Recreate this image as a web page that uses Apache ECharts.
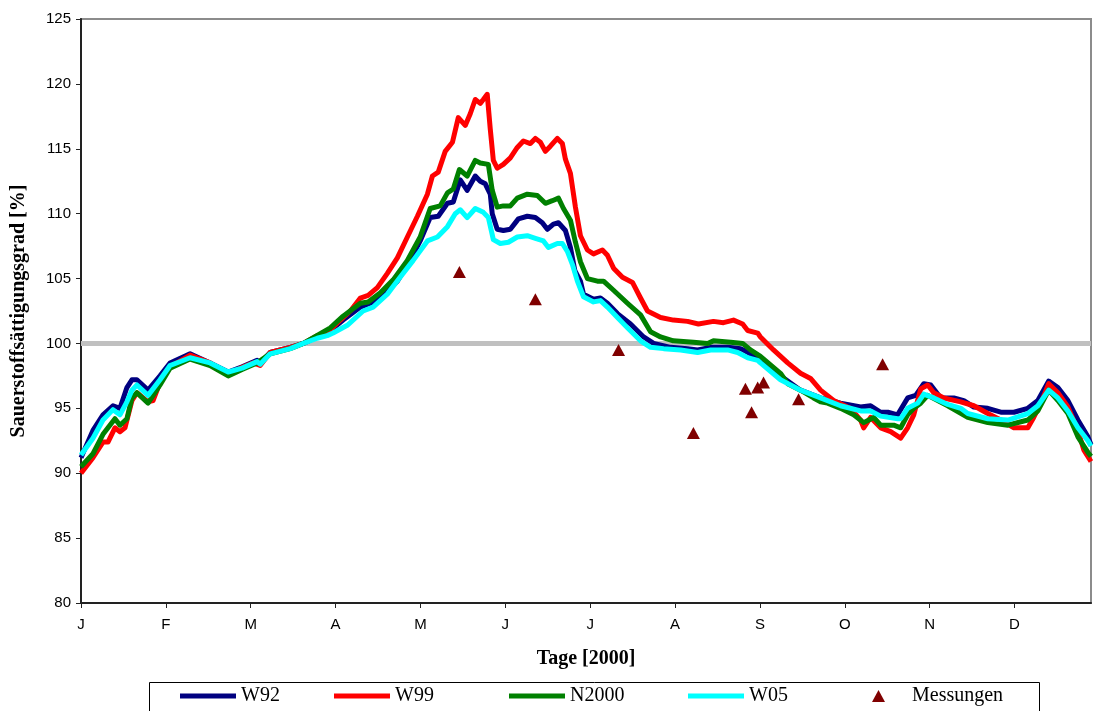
<!DOCTYPE html>
<html><head><meta charset="utf-8">
<script src="https://cdn.jsdelivr.net/npm/echarts@6/dist/echarts.min.js"></script>
<style>html,body{margin:0;padding:0;background:#fff}#c{width:1094px;height:711px}</style>
</head><body><div id="c"></div>
<script>
const monthLabels = ['J','F','M','A','M','J','J','A','S','O','N','D'];
const yTicks = [80,85,90,95,100,105,110,115,120,125];
const seriesNames = ['W92','W99','N2000','W05','Messungen'];
const refLevel = 100;

const w92 = [[0,91.2],[4.3,93.3],[7.9,94.5],[11.5,95.2],[14,95.0],[16.5,96.6],[18.3,97.2],[20.1,97.2],[24.1,96.4],[28.4,97.5],[32,98.5],[39.2,99.2],[46.4,98.5],[52.9,97.8],[57.9,98.2],[63.3,98.7],[64.4,98.5],[68,99.3],[75.2,99.7],[79.9,100.0],[84.9,100.5],[89.6,101.0],[94.2,101.8],[100.4,102.8],[104,103.1],[107.6,103.5],[113.7,104.8],[118.3,106.4],[121.9,107.9],[125.5,109.7],[128.4,109.8],[131.7,110.8],[133.8,110.9],[136.3,112.6],[138.8,111.8],[141.7,112.9],[143.5,112.5],[145.3,112.3],[147.1,111.5],[147.8,110.0],[149.6,108.8],[151.8,108.7],[154.3,108.8],[157.2,109.6],[160.4,109.8],[163.3,109.7],[165.8,109.3],[167.6,108.8],[169.8,109.2],[171.6,109.3],[174.1,108.7],[175.9,107.4],[177.5,105.6],[179.5,104.8],[180.6,103.8],[184.2,103.4],[186.7,103.5],[189.2,103.1],[192.8,102.3],[197.5,101.5],[202.2,100.5],[205.8,100.0],[211.9,99.7],[218,99.6],[221.6,99.5],[226.3,99.7],[232.4,99.7],[237.1,99.6],[240.6,99.2],[244.2,98.8],[251.4,97.5],[258.6,96.4],[265.8,95.8],[273,95.4],[280.2,95.1],[283.8,95.2],[287.4,94.7],[290,94.7],[293.5,94.5],[297.1,95.8],[300,96.0],[302.9,96.9],[305.4,96.8],[309,95.8],[313.7,95.8],[317.3,95.6],[320.9,95.1],[325.9,95.0],[330.6,94.7],[335.3,94.7],[340.3,95.0],[343.9,95.6],[347.8,97.1],[351.1,96.6],[354.7,95.6],[358.3,94.1],[361.9,92.8],[363,92.2]];

const w99 = [[0,90.0],[4.3,91.2],[7.9,92.4],[9.7,92.4],[12.2,93.5],[14,93.2],[15.8,93.5],[18.3,95.6],[20.1,96.2],[24.1,95.5],[25.9,95.6],[28.4,97.0],[32,98.2],[39.2,99.1],[46.4,98.5],[52.9,97.6],[57.2,98.1],[61.9,98.5],[64.4,98.3],[68,99.3],[75.2,99.7],[79.9,100.0],[84.9,100.6],[88.5,100.8],[93.2,101.8],[96.8,102.5],[100.4,103.5],[103.2,103.7],[106.5,104.3],[110.1,105.4],[113.7,106.6],[117.3,108.2],[120.9,109.8],[124.5,111.5],[126.3,112.9],[128.4,113.2],[130.9,114.8],[133.5,115.5],[135.6,117.4],[138.1,116.8],[139.9,117.7],[141.7,118.8],[143.5,118.5],[144.6,118.8],[146,119.2],[147.1,116.5],[148.2,114.1],[149.6,113.5],[151.8,113.8],[154.3,114.3],[156.8,115.1],[159,115.6],[161.5,115.4],[163.3,115.8],[165.1,115.5],[166.9,114.8],[168.7,115.2],[171.2,115.8],[173,115.4],[174.1,114.2],[175.9,113.1],[177.7,110.5],[179.5,108.3],[182,107.2],[184.2,106.9],[187.4,107.2],[189.2,106.8],[191.4,105.8],[194.6,105.1],[198.2,104.7],[201.1,103.5],[203.6,102.5],[208.3,102.0],[212.9,101.8],[218,101.7],[221.9,101.5],[227.3,101.7],[230.9,101.6],[234.5,101.8],[237.8,101.5],[239.6,101.0],[243.2,100.8],[244.2,100.5],[248.9,99.5],[254,98.5],[258.6,97.7],[262.2,97.3],[265.8,96.4],[270.5,95.6],[275.5,95.1],[276.6,95.0],[280.2,94.1],[281.3,93.5],[283.8,94.3],[287.4,93.5],[291,93.2],[294.6,92.7],[297.1,93.5],[299.3,94.5],[301.8,96.5],[304.3,96.8],[306.5,96.2],[310.1,95.8],[316.2,95.5],[320.9,95.2],[325.9,94.6],[330.6,94.1],[335.3,93.5],[340.3,93.5],[342.4,94.3],[345,95.4],[347.8,96.9],[351.1,96.2],[354.7,95.1],[358.3,93.3],[360.4,91.8],[363,90.9]];

const n2000 = [[0,90.5],[4.3,91.5],[7.9,93.0],[12.2,94.2],[14,93.7],[16.5,94.2],[18.3,95.8],[20.1,96.2],[24.1,95.4],[28.4,96.8],[32,98.1],[39.2,98.8],[46.4,98.3],[52.9,97.5],[57.9,98.0],[63.3,98.5],[68,99.2],[75.2,99.6],[79.9,100.0],[89.6,101.2],[94.2,102.1],[100.4,103.1],[103.2,103.2],[107.6,103.9],[112.2,104.9],[117.3,106.4],[121.9,108.2],[125.5,110.4],[129.1,110.6],[131.7,111.6],[133.8,111.9],[136,113.4],[138.8,112.9],[141.7,114.1],[143.5,113.9],[146.4,113.8],[147.8,111.8],[149.6,110.5],[151.8,110.6],[154.3,110.6],[156.8,111.2],[160.4,111.5],[164,111.4],[166.9,110.8],[169.4,111.0],[171.6,111.2],[173.4,110.4],[175.9,109.5],[177.7,107.8],[179.5,106.3],[182,105.0],[185.6,104.8],[187.8,104.8],[191.4,104.1],[196.4,103.1],[201.1,102.2],[204.7,100.9],[208.3,100.5],[212.9,100.2],[220.1,100.1],[225.2,100.0],[227.3,100.2],[233.5,100.1],[237.8,100.0],[240.6,99.5],[244.2,99.0],[251.4,97.7],[254,96.9],[258.6,96.4],[263.3,95.8],[265.8,95.5],[268.3,95.4],[273,95.0],[277.7,94.5],[281.3,93.9],[284.9,94.3],[287.4,93.7],[292.1,93.7],[294.6,93.5],[297.1,94.5],[299.3,95.0],[301.8,95.4],[304.3,96.0],[307.9,95.6],[311.5,95.2],[318.7,94.3],[325.9,93.9],[333.1,93.7],[340.3,94.1],[343.9,94.8],[347.8,96.4],[351.1,95.6],[354.7,94.6],[358.3,92.8],[361.9,91.6],[363,91.3]];

const w05 = [[0,91.4],[4.3,92.7],[7.9,94.1],[11.5,94.9],[14,94.5],[16.5,95.5],[18.3,96.4],[20.1,96.8],[24.1,96.0],[28.4,97.2],[32,98.3],[39.2,98.9],[46.4,98.5],[52.9,97.8],[57.9,98.1],[63.3,98.6],[64.4,98.4],[68,99.2],[75.2,99.6],[79.9,100.0],[84.9,100.4],[88.5,100.6],[90.6,100.8],[95.7,101.4],[101.4,102.5],[105,102.8],[110.1,103.8],[114.7,105.1],[119.4,106.4],[124.5,107.9],[128.1,108.2],[131.7,109.0],[134.5,110.0],[136.3,110.3],[138.8,109.7],[141.7,110.4],[144.6,110.1],[146.4,109.7],[148.2,108.0],[150.7,107.7],[153.6,107.8],[156.8,108.2],[160.4,108.3],[163.3,108.1],[166.2,107.9],[168,107.4],[171.2,107.7],[173,107.7],[174.8,107.1],[176.6,106.1],[178.4,104.8],[180.6,103.6],[184.2,103.2],[186.7,103.3],[189.2,102.8],[192.8,102.0],[196.4,101.2],[201.1,100.2],[204.7,99.7],[209.4,99.6],[215.5,99.5],[221.6,99.3],[226.3,99.5],[232.4,99.5],[236,99.3],[239.6,98.9],[243.2,98.7],[244.2,98.5],[251.4,97.2],[258.6,96.4],[265.8,95.8],[273,95.2],[280.2,94.8],[283.8,94.8],[287.4,94.4],[293.5,94.2],[294.6,94.2],[297.1,95.0],[300.7,95.4],[302.9,96.1],[306.5,95.8],[311.5,95.3],[316.2,95.0],[318.7,94.6],[325.9,94.2],[333.1,94.1],[340.3,94.6],[343.9,95.2],[347.8,96.4],[351.1,95.8],[354.7,94.8],[358.3,93.5],[361.9,92.5],[363,92.1]];

const messungen = [[136.0,105.5],[163.3,103.4],[193.2,99.5],[220.1,93.1],[238.8,96.5],[241.0,94.7],[243.2,96.6],[245.3,97.0],[257.9,95.7],[288.1,98.4]];

const colors = {W92:'#000080', W99:'#ff0000', N2000:'#008000', W05:'#00ffff', Messungen:'#800000'};
const serif = '"Liberation Serif", "Times New Roman", serif';
const sans = '"Liberation Sans", Arial, sans-serif';

const chart = echarts.init(document.getElementById('c'), null, {renderer:'canvas'});

function lineSeries(name, data) {
  return {name, type:'line', data, showSymbol:false, symbol:'none', smooth:false,
    lineStyle:{width:5, color:colors[name], join:'round'}, itemStyle:{color:colors[name]}, z:3};
}
function legendFor(name, left, extra) {
  return Object.assign({data:[name], left, top:686, icon:'rect', itemWidth:56, itemHeight:5,
    textStyle:{fontFamily:serif, fontSize:20, color:'#000', lineHeight:20},
    selectedMode:false, padding:0}, extra||{});
}

chart.setOption({
  animation:false,
  backgroundColor:'#fff',
  grid:{left:81, right:3, top:19, bottom:108, show:true, borderColor:'#8c8c8c', borderWidth:2, containLabel:false},
  xAxis:{type:'value', min:0, max:363, interval:30.5,
    name:'Tage [2000]', nameLocation:'middle', nameGap:46,
    nameTextStyle:{fontFamily:serif, fontWeight:'bold', fontSize:20, color:'#000'},
    axisLine:{show:true, onZero:false, lineStyle:{color:'#222', width:2}},
    axisTick:{show:true, length:5, lineStyle:{color:'#222', width:1}},
    axisLabel:{margin:14, fontFamily:sans, fontSize:15, color:'#000', showMaxLabel:false,
      formatter:function(v){const i=Math.round(v/30.5); return monthLabels[i]||'';}},
    splitLine:{show:false}},
  yAxis:{type:'value', min:yTicks[0], max:yTicks[yTicks.length-1], interval:5,
    name:'Sauerstoffsättigungsgrad [%]', nameLocation:'middle', nameGap:52, nameRotate:90,
    nameTextStyle:{fontFamily:serif, fontWeight:'bold', fontSize:20, color:'#000'},
    axisLine:{show:true, lineStyle:{color:'#222', width:2}},
    axisTick:{show:true, length:5, lineStyle:{color:'#222', width:1}},
    axisLabel:{margin:10, fontFamily:sans, fontSize:15, color:'#000'},
    splitLine:{show:false}},
  legend:[
    legendFor('W92',180),
    legendFor('W99',334),
    legendFor('N2000',509),
    legendFor('W05',688),
    legendFor('Messungen',872,{icon:'triangle', itemWidth:13, itemHeight:12,
      textStyle:{fontFamily:serif, fontSize:20, color:'#000', lineHeight:20, padding:[0,0,0,22]}})
  ],
  graphic:[{type:'rect', left:147, top:680, shape:{width:890, height:60}, style:{fill:'none', stroke:'#000', lineWidth:1}, silent:true}],
  series:[
    {name:'ref', type:'line', data:[[0,refLevel],[363,refLevel]], showSymbol:false, symbol:'none',
      lineStyle:{width:5, color:'#c0c0c0'}, z:2, silent:true},
    lineSeries('W92', w92),
    lineSeries('W99', w99),
    lineSeries('N2000', n2000),
    lineSeries('W05', w05),
    {name:'Messungen', type:'scatter', data:messungen, symbol:'triangle', symbolSize:[13,12],
      itemStyle:{color:colors.Messungen, opacity:1}, z:5}
  ]
});
</script></body></html>
